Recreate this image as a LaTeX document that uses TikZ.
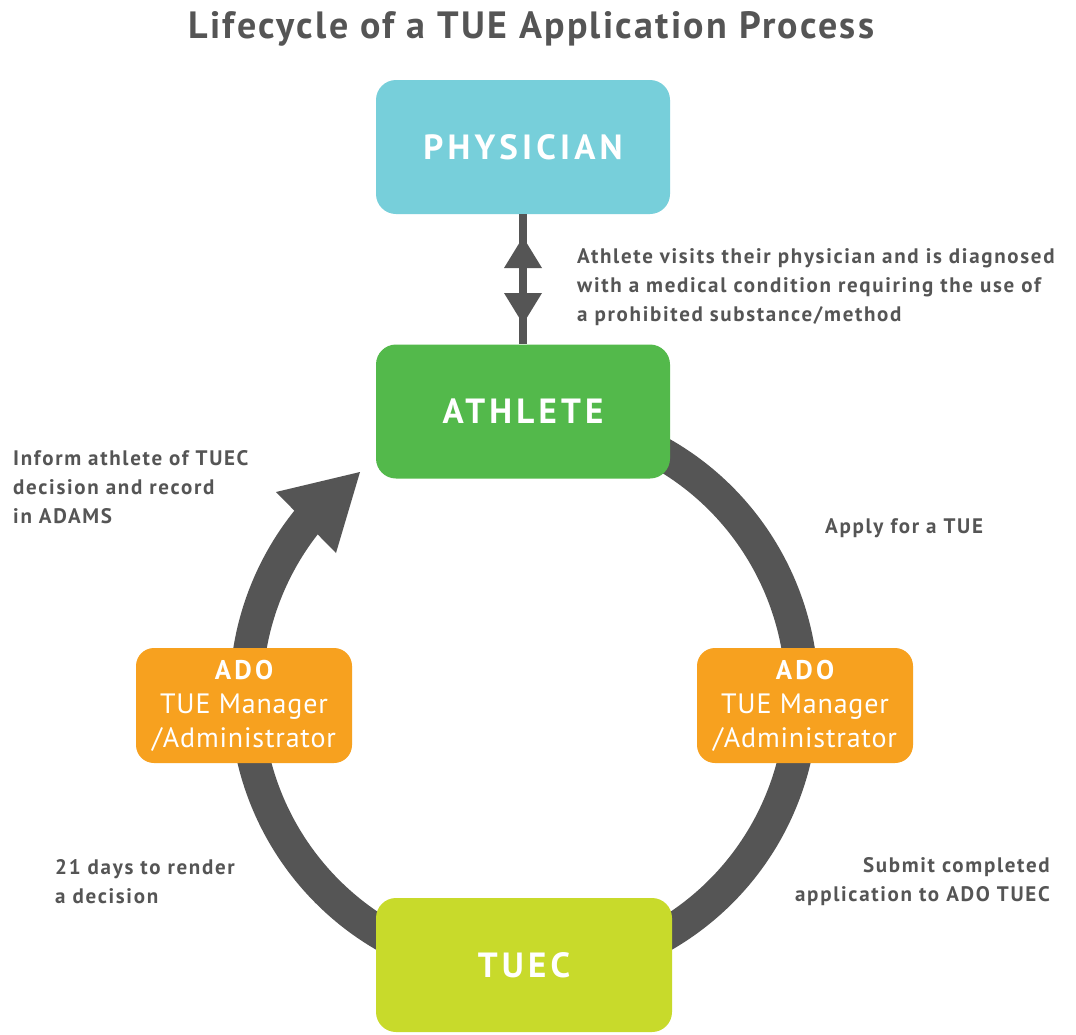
\documentclass[tikz,border=0pt]{standalone}
\usepackage{fontspec}
\setmainfont{PT Sans}
\newfontfamily\spaced{PT Sans}[LetterSpace=12]
\newfontfamily\lblfont{PT Sans}[LetterSpace=8]
\newfontfamily\titlefont{PT Sans}[LetterSpace=6]
\newfontfamily\adofont{PT Sans}[LetterSpace=3]
\definecolor{ringc}{HTML}{555555}
\definecolor{txt}{HTML}{555555}
\definecolor{physc}{HTML}{77CFDA}
\definecolor{athc}{HTML}{53B94B}
\definecolor{tuecc}{HTML}{C8DA2B}
\definecolor{adoc}{HTML}{F7A11F}
\tikzset{
  bigbox/.style={rounded corners=20pt, minimum width=294pt, minimum height=134pt, inner sep=0pt, text=white, font=\spaced\bfseries\fontsize{35}{40}\selectfont},
  adobox/.style={rounded corners=18pt, fill=adoc, minimum width=216pt, minimum height=115pt, inner sep=0pt, text=white, align=center, font=\adofont\fontsize{28}{34}\selectfont},
  lbl/.style={text=txt, inner sep=0pt, font=\lblfont\bfseries\fontsize{21}{29}\selectfont},
}
\begin{document}
\begin{tikzpicture}[x=1pt,y=1pt]
\useasboundingbox[fill=white] (0,0) rectangle (1076,-1034);
% ring
\coordinate (ringstart) at (619.1,-433.8);
\draw[ringc, line width=33pt] (ringstart) arc[start angle=70, end angle=-220, radius=278];
\coordinate (tip) at (360,-472);
\coordinate (hl) at (276,-492);
\coordinate (hr) at (336,-553);
\fill[ringc] (tip) -- (hl) -- (hr) -- cycle;
% boxes
\node[bigbox, fill=physc] (phys) at (523,-147) {PHYSICIAN};
\node[bigbox, fill=athc] (ath) at (523,-411.5) {ATHLETE};
\node[bigbox, fill=tuecc, minimum width=296pt] (tuec) at (524,-965) {TUEC};
\node[adobox] (adol) at (244,-705.5) {{\bfseries\spaced\fontsize{27}{34}\selectfont ADO}\\TUE Manager\\/Administrator};
\node[adobox] (ador) at (805,-705.5) {{\bfseries\spaced\fontsize{27}{34}\selectfont ADO}\\TUE Manager\\/Administrator};
% physician-athlete double arrow
\draw[ringc, line width=7.5pt] (phys.south) -- (ath.north);
\coordinate (ut) at (523,-237);
\coordinate (ubl) at (504,-268);
\coordinate (ubr) at (542,-268);
\coordinate (dt) at (523,-324);
\coordinate (dbl) at (504,-293);
\coordinate (dbr) at (542,-293);
\fill[ringc] (ut) -- (ubl) -- (ubr) -- cycle;
\fill[ringc] (dt) -- (dbl) -- (dbr) -- cycle;
% title
\node[text=txt, inner sep=0pt, anchor=base, font=\titlefont\bfseries\fontsize{38}{42}\selectfont] (title) at (531.5,-38) {Lifecycle of a TUE Application Process};
% labels
\node[lbl, anchor=west, align=left] (l1) at (577,-287) {Athlete visits their physician and is diagnosed\\with a medical condition requiring the use of\\a prohibited substance/method};
\node[lbl, anchor=west, align=left] (l2) at (13,-487) {Inform athlete of TUEC\\decision and record\\in ADAMS};
\node[lbl, anchor=west, align=left] (l3) at (825,-528) {Apply for a TUE};
\node[lbl, anchor=west, align=left] (l4) at (55,-882) {21 days to render\\a decision};
\node[lbl, anchor=east, align=right] (l5) at (1050,-882) {Submit completed\\application to ADO TUEC};
\end{tikzpicture}
\end{document}
